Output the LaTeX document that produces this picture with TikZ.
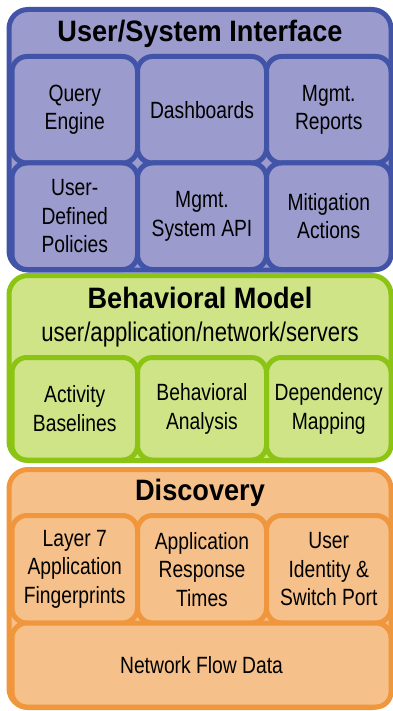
\documentclass[tikz,border=0pt]{standalone}
\usepackage{fontspec}
\setmainfont{Liberation Sans}[FakeStretch=0.82]
\newfontfamily\headfont{Liberation Sans Bold}[FakeStretch=0.92]
\usepackage{tikz}
\usetikzlibrary{backgrounds}
\definecolor{uifill}{RGB}{155,155,205}
\definecolor{uiline}{RGB}{66,84,168}
\definecolor{bmfill}{RGB}{206,228,134}
\definecolor{bmline}{RGB}{140,196,20}
\definecolor{dcfill}{RGB}{246,192,138}
\definecolor{dcline}{RGB}{240,150,60}
\newcommand{\thick}{5pt}
\newcommand{\bodyfont}{\fontsize{23.5}{28.5}\selectfont}
\newcommand{\titlefont}{\headfont\fontsize{29.5}{32}\selectfont}
\tikzset{
  layer/.style={draw, line width=\thick, rounded corners=19pt, inner sep=0pt},
  cell/.style={draw, line width=\thick, rounded corners=15pt, inner sep=0pt,
    align=center, font=\bodyfont},
  head/.style={anchor=base, inner sep=0pt, font=\titlefont}
}

\begin{document}
\begin{tikzpicture}[x=1pt,y=1pt]
\useasboundingbox (0,0) rectangle (392,-711);
%user/system interface
\node[layer, draw=uiline, fill=uifill, minimum width=382pt, minimum height=260.5pt] (ui) at (200,-139.75) {};
\node[head] (uititle) at (200,-42) {User/System Interface};
\node[cell, draw=uiline, fill=uifill, minimum width=125.5pt, minimum height=106.5pt] (query) at (74.75,-109.75) {Query\\Engine};
\node[cell, draw=uiline, fill=uifill, minimum width=129pt, minimum height=106.5pt] (dash) at (202,-109.75) {Dashboards};
\node[cell, draw=uiline, fill=uifill, minimum width=124.5pt, minimum height=106.5pt] (reports) at (328.75,-109.75) {Mgmt.\\Reports};
\node[cell, draw=uiline, fill=uifill, minimum width=125.5pt, minimum height=106.5pt] (policies) at (74.75,-216.25) {User-\\Defined\\Policies};
\node[cell, draw=uiline, fill=uifill, minimum width=129pt, minimum height=106.5pt] (api) at (202,-216.25) {Mgmt.\\System API};
\node[cell, draw=uiline, fill=uifill, minimum width=124.5pt, minimum height=106.5pt] (actions) at (328.75,-216.25) {Mitigation\\Actions};
%behavioral model
\node[layer, draw=bmline, fill=bmfill, minimum width=382pt, minimum height=185pt] (bm) at (200,-368) {};
\node[head] (bmtitle) at (200,-308) {Behavioral Model};
\node[anchor=base, inner sep=0pt, font=\fontsize{27}{30}\selectfont] (bmsub) at (200,-341.5) {user/application/network/servers};
\node[cell, draw=bmline, fill=bmfill, minimum width=125.5pt, minimum height=102.5pt] (base) at (74.75,-408.75) {Activity\\Baselines};
\node[cell, draw=bmline, fill=bmfill, minimum width=129pt, minimum height=102.5pt] (analysis) at (202,-408.75) {Behavioral\\Analysis};
\node[cell, draw=bmline, fill=bmfill, minimum width=124.5pt, minimum height=102.5pt] (depend) at (328.75,-408.75) {Dependency\\Mapping};
%discovery
\node[layer, draw=dcline, fill=dcfill, minimum width=382pt, minimum height=238pt] (dc) at (200,-588.5) {};
\node[head] (dctitle) at (200,-500) {Discovery};
\node[cell, draw=dcline, fill=dcfill, minimum width=125.5pt, minimum height=107.5pt] (layer7) at (74.75,-569.25) {Layer 7\\Application\\Fingerprints};
\node[cell, draw=dcline, fill=dcfill, minimum width=129pt, minimum height=107.5pt] (resp) at (202,-569.25) {Application\\Response\\Times};
\node[cell, draw=dcline, fill=dcfill, minimum width=124.5pt, minimum height=107.5pt] (ident) at (328.75,-569.25) {User\\Identity \&\\Switch Port};
\node[cell, draw=dcline, fill=dcfill, minimum width=379pt, minimum height=84pt] (flow) at (201.5,-665) {Network Flow Data};
\end{tikzpicture}
\end{document}
